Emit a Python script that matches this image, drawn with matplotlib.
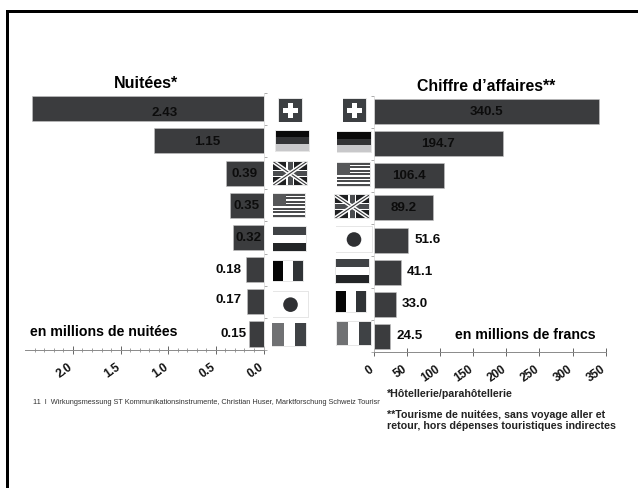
import matplotlib
matplotlib.use('Agg')
import matplotlib.pyplot as plt
from matplotlib.patches import Rectangle, Circle
from matplotlib.transforms import ScaledTranslation
import numpy as np

W, H = 638, 488

plt.rcParams['font.family'] = ['Liberation Sans', 'DejaVu Sans']

# Data
nights_countries = ['CH', 'DE', 'UK', 'US', 'NL', 'BE', 'JP', 'IT']
nights_values = [2.43, 1.15, 0.39, 0.35, 0.32, 0.18, 0.17, 0.15]
nights_labels = ['2.43', '1.15', '0.39', '0.35', '0.32', '0.18', '0.17', '0.15']
revenue_countries = ['CH', 'DE', 'US', 'UK', 'JP', 'NL', 'BE', 'IT']
revenue_values = [340.5, 194.7, 106.4, 89.2, 51.6, 41.1, 33.0, 24.5]
revenue_labels = ['340.5', '194.7', '106.4', '89.2', '51.6', '41.1', '33.0', '24.5']
nights_ticks = [0.0, 0.5, 1.0, 1.5, 2.0]
nights_ticklabels = ['0.0', '0.5', '1.0', '1.5', '2.0']
revenue_ticks = [0, 50, 100, 150, 200, 250, 300, 350]
revenue_ticklabels = ['0', '50', '100', '150', '200', '250', '300', '350']

BAR = '#3b3c3e'
DARK_LABEL = '#0c0c0c'
AXIS = '#8a8a8a'


def px_axes(fig, x0, y0, x1, y1):
    """Axes placed with pixel coordinates, y measured from the top"""
    return fig.add_axes([x0 / W, 1 - y1 / H, (x1 - x0) / W, (y1 - y0) / H])


def style_axis(ax):
    ax.patch.set_alpha(0)
    for side in ['top', 'left', 'right', 'bottom']:
        ax.spines[side].set_visible(False)
    ax.spines['bottom'].set_visible(True)
    ax.spines['bottom'].set_color(AXIS)
    ax.spines['bottom'].set_linewidth(0.7)
    ax.set_ylim(7.5, -0.5)
    ax.set_yticks(np.arange(-0.5, 8, 1))
    ax.set_yticklabels([])
    ax.tick_params(axis='y', length=2, width=0.5, color=AXIS)
    ax.tick_params(axis='x', which='major', direction='inout', length=6, width=0.7,
                   color='#666666', pad=5)


def shift_ticklabels(ax, dx_px):
    """Slide the rotated tick labels sideways so they hang left of their ticks"""
    offset = ScaledTranslation(dx_px / 100, 0, ax.figure.dpi_scale_trans)
    for label in ax.get_xticklabels():
        label.set_transform(label.get_transform() + offset)


def draw_flag(ax, kind, x0, y0, x1, y1):
    """Greyscale flag inside a pixel box"""
    w, h = x1 - x0, y1 - y0
    def box(a, b, c, d, color, **kw):
        p = Rectangle((a, b), c - a, d - b, facecolor=color, edgecolor='none', **kw)
        ax.add_patch(p)
        return p
    box(x0 - 0.8, y0 - 0.8, x1 + 0.8, y1 + 0.8, '#e6e6e6')
    if kind == 'CH':
        box(x0, y0, x1, y1, '#3c3f42')
        cx, cy = (x0 + x1) / 2, (y0 + y1) / 2
        box(cx - 7.5, cy - 2.8, cx + 7.5, cy + 2.8, 'white')
        box(cx - 2.8, cy - 7.5, cx + 2.8, cy + 7.5, 'white')
    elif kind == 'DE':
        for i, c in enumerate(['#0a0a0a', '#333436', '#c8c8ca']):
            box(x0, y0 + i * h / 3, x1, y0 + (i + 1) * h / 3, c)
    elif kind == 'NL':
        for i, c in enumerate(['#3f4245', 'white', '#232527']):
            box(x0, y0 + i * h / 3, x1, y0 + (i + 1) * h / 3, c)
    elif kind in ('BE', 'IT'):
        cols = ['#050505', 'white', '#303336'] if kind == 'BE' else ['#707173', 'white', '#3f4245']
        for i, c in enumerate(cols):
            box(x0 + i * w / 3, y0, x0 + (i + 1) * w / 3, y1, c)
    elif kind == 'JP':
        box(x0, y0, x1, y1, 'white')
        ax.add_patch(Circle(((x0 + x1) / 2, (y0 + y1) / 2), 7.3, facecolor='#2f3033', edgecolor='none'))
    elif kind == 'US':
        box(x0, y0, x1, y1, 'white')
        for i in range(0, 13, 2):
            box(x0, y0 + i * h / 13, x1, y0 + (i + 1) * h / 13, '#4a4b4d')
        box(x0, y0, x0 + 0.4 * w, y0 + 7 * h / 13, '#565759')
    elif kind == 'UK':
        clip = box(x0, y0, x1, y1, '#1f2022')
        for a, b in [((x0, y0), (x1, y1)), ((x0, y1), (x1, y0))]:
            ln, = ax.plot([a[0], b[0]], [a[1], b[1]], color='white', lw=3.0, solid_capstyle='butt')
            ln.set_clip_path(clip)
            ln2, = ax.plot([a[0], b[0]], [a[1], b[1]], color='#3a3b3d', lw=0.8, solid_capstyle='butt')
            ln2.set_clip_path(clip)
        cx, cy = (x0 + x1) / 2, (y0 + y1) / 2
        box(x0, cy - 3.8, x1, cy + 3.8, 'white')
        box(cx - 3.8, y0, cx + 3.8, y1, 'white')
        box(x0, cy - 2.5, x1, cy + 2.5, '#4a4c4f')
        box(cx - 2.5, y0, cx + 2.5, y1, '#4a4c4f')


fig = plt.figure(figsize=(W / 100, H / 100), dpi=100, facecolor='white')

# Page overlay in pixel units, for frame, captions and flags
page = fig.add_axes([0, 0, 1, 1])
page.set_xlim(0, W)
page.set_ylim(H, 0)
page.axis('off')
page.add_patch(Rectangle((6, 10), W, 3, facecolor='black', edgecolor='none'))
page.add_patch(Rectangle((6, 10), 2.5, H, facecolor='black', edgecolor='none'))

# Left chart: overnight stays, axis reversed
ax1 = px_axes(fig, 25.3, 92.6, 263.5, 350.1)
ax1.barh(range(len(nights_values)), nights_values, height=0.78, color=BAR, edgecolor='#c4c4c4', linewidth=0.4)
ax1.set_xlim(2.5, 0)
style_axis(ax1)
ax1.yaxis.tick_right()
ax1.set_xticks(nights_ticks)
ax1.set_xticklabels(nights_ticklabels, rotation=35, ha='right', rotation_mode='anchor',
                    fontsize=8.5, fontweight='bold', color='#111111')
ax1.set_xticks(np.arange(0.1, 2.5, 0.1), minor=True)
ax1.tick_params(axis='x', which='minor', direction='inout', length=3, width=0.5, color='#777777')
ax1.spines['right'].set_visible(True)
ax1.spines['right'].set_color('#d4d4d4')
ax1.spines['right'].set_linewidth(0.5)
shift_ticklabels(ax1, -5)

# Right chart: revenue
ax2 = px_axes(fig, 374, 95.6, 605.7, 352.4)
ax2.barh(range(len(revenue_values)), revenue_values, height=0.78, color=BAR, edgecolor='#c4c4c4', linewidth=0.4)
ax2.set_xlim(0, 350)
style_axis(ax2)
ax2.set_xticks(revenue_ticks)
ax2.set_xticklabels(revenue_ticklabels, rotation=35, ha='right', rotation_mode='anchor',
                    fontsize=8.5, fontweight='bold', color='#111111')
ax2.spines['left'].set_visible(True)
ax2.spines['left'].set_color('#d4d4d4')
ax2.spines['left'].set_linewidth(0.5)
shift_ticklabels(ax2, -5)

# Value labels: inside the long bars, beside the short ones
LABEL_SIZE = 9.6
for i, (v, s) in enumerate(zip(nights_values, nights_labels)):
    if i < 5:
        dx = {0: 17, 1: -1, 2: 0, 3: 0, 4: 0}[i]
        dy = {0: 4, 1: 1, 2: 1, 3: 1, 4: 1}[i]
        ax1.annotate(s, (v / 2, i), xytext=(dx * 0.72, -dy * 0.72), textcoords='offset points',
                     ha='center', va='center', fontsize=LABEL_SIZE, fontweight='bold', color=DARK_LABEL)
    else:
        dx = {5: 5, 6: 6, 7: 3}[i]
        dy = {5: 0, 6: 1.5, 7: 0}[i]
        ax1.annotate(s, (v, i), xytext=(-dx * 0.72, dy * 0.72), textcoords='offset points',
                     ha='right', va='center', fontsize=LABEL_SIZE, fontweight='bold', color='#0a0a0a')

for i, (v, s) in enumerate(zip(revenue_values, revenue_labels)):
    if i < 4:
        ax2.annotate(s, (v / 2, i), ha='center', va='center', fontsize=LABEL_SIZE,
                     fontweight='bold', color=DARK_LABEL)
    else:
        ax2.annotate(s, (v, i), xytext=(6 * 0.72, 0), textcoords='offset points',
                     ha='left', va='center', fontsize=LABEL_SIZE, fontweight='bold', color='#0a0a0a')

# Flag boxes between the two charts
left_flags = [(279, 99, 302.3, 121.7), (275.7, 130.7, 309.3, 151), (273.3, 161.7, 306.7, 185),
              (273.3, 194, 305.3, 216.7), (273.3, 226.7, 306, 251), (273.3, 260.7, 303.3, 281.3),
              (273.3, 292, 307.7, 317.3), (272.3, 323.3, 306, 346)]
right_flags = [(343.3, 99, 366, 121.7), (337.3, 131.7, 370.7, 152.3), (337.3, 163, 370, 185.7),
               (335, 195, 369.3, 218.3), (336.3, 226.7, 371.7, 252.3), (336, 259.3, 368.7, 283.3),
               (335.7, 291.3, 366, 311.7), (336.7, 322, 370.7, 344.7)]
for kind, b in zip(nights_countries, left_flags):
    draw_flag(page, kind, *b)
for kind, b in zip(revenue_countries, right_flags):
    draw_flag(page, kind, *b)
page.set_xlim(0, W)
page.set_ylim(H, 0)

# Headings and captions
page.text(146, 84, 'Nuitées*', ha='center', va='center', fontsize=11.5, fontweight='bold')
page.text(486, 86.7, 'Chiffre d’affaires**', ha='center', va='center', fontsize=11.4, fontweight='bold')
page.text(30, 331.7, 'en millions de nuitées', ha='left', va='center', fontsize=10.2, fontweight='bold')
page.text(455, 335, 'en millions de francs', ha='left', va='center', fontsize=10.2, fontweight='bold')
# The slide footer runs under the notes column, so it stops at its edge
footer = page.text(33, 402, '11  I  Wirkungsmessung ST Kommunikationsinstrumente, Christian Huser, '
                   'Marktforschung Schweiz Tourismus', ha='left', va='center', fontsize=5.3, color='#333333')
footer.set_clip_path(Rectangle((0, 380), 380, 40, transform=page.transData))
footer.set_clip_on(True)
NOTE_SIZE = 7.7
page.text(387, 394, '*Hôtellerie/parahôtellerie', ha='left', va='center', fontsize=NOTE_SIZE,
          fontweight='bold', color='#222222')
page.text(387, 414.5, '**Tourisme de nuitées, sans voyage aller et', ha='left', va='center', fontsize=NOTE_SIZE,
          fontweight='bold', color='#222222')
page.text(387, 426, 'retour, hors dépenses touristiques indirectes', ha='left', va='center', fontsize=NOTE_SIZE,
          fontweight='bold', color='#222222')

fig.savefig('out.png', dpi=100)
